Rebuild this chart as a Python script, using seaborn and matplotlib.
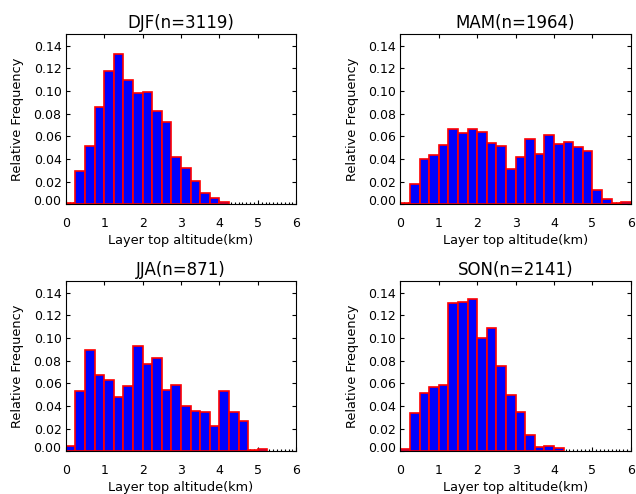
import numpy as np
import pandas as pd
import matplotlib
matplotlib.use("Agg")
import matplotlib.pyplot as plt
from matplotlib.transforms import ScaledTranslation
from matplotlib.ticker import MultipleLocator
import seaborn as sns

# Layer-top altitude bins (km), 0.25 km wide from 0 to 6 km
bin_width = 0.25
alt_range = (0.0, 6.0)
bin_centers = np.arange(alt_range[0] + bin_width / 2, alt_range[1], bin_width)

titles = ["DJF(n=3119)", "MAM(n=1964)", "JJA(n=871)", "SON(n=2141)"]

djf = [0.001, 0.029, 0.051, 0.086, 0.118, 0.133, 0.110, 0.0985, 0.099, 0.082,
       0.073, 0.042, 0.032, 0.0206, 0.010, 0.0053, 0.002, 0, 0, 0, 0, 0, 0, 0]
mam = [0.001, 0.0176, 0.040, 0.0432, 0.0526, 0.0668, 0.0626, 0.0662, 0.0641, 0.0538,
       0.0518, 0.0309, 0.0418, 0.058, 0.0447, 0.0615, 0.053, 0.0553, 0.0503, 0.0468,
       0.0124, 0.0044, 0.0015, 0.0024]
jja = [0.005, 0.053, 0.089, 0.0676, 0.063, 0.048, 0.0574, 0.093, 0.0768, 0.0826,
       0.0538, 0.0585, 0.040, 0.0353, 0.0344, 0.0226, 0.053, 0.0344, 0.0265, 0.001,
       0.002, 0, 0, 0]
son = [0.0018, 0.0338, 0.0512, 0.057, 0.0582, 0.1306, 0.1315, 0.134, 0.100, 0.109,
       0.0756, 0.0497, 0.035, 0.0147, 0.004, 0.005, 0.0032, 0, 0, 0, 0, 0, 0, 0]

season_freqs = [djf, mam, jja, son]

x_ticks = [0, 1, 2, 3, 4, 5, 6]
y_ticks = [0.00, 0.02, 0.04, 0.06, 0.08, 0.10, 0.12, 0.14]
y_tick_labels = ["0.00", "0.02", "0.04", "0.06", "0.08", "0.10", "0.12", "0.14"]

sns.set_style("ticks")
plt.rcParams["font.family"] = ["DejaVu Sans"]
plt.rcParams.update({
    "text.color": "black",
    "axes.labelcolor": "black",
    "xtick.color": "black",
    "ytick.color": "black",
    "axes.edgecolor": "black",
})

fig = plt.figure(figsize=(6.36, 4.94), dpi=100)
fig.patch.set_facecolor("white")

W, H = 636.0, 494.0
ax_w, ax_h = 230.6, 170.0
lefts = [65.7, 400.3]
tops = [34.3, 281.3]

for i, (title, freqs) in enumerate(zip(titles, season_freqs)):
    row, col = divmod(i, 2)
    rect = [lefts[col] / W, 1 - (tops[row] + ax_h) / H, ax_w / W, ax_h / H]
    ax = fig.add_axes(rect)
    df = pd.DataFrame({"alt": bin_centers, "freq": freqs})
    sns.histplot(data=df, x="alt", weights="freq", binwidth=bin_width, binrange=alt_range,
                 ax=ax, color="#0000ff", alpha=1.0)
    for p in list(ax.patches):
        if p.get_height() <= 0:
            p.remove()  # empty bins are not drawn
        else:
            p.set_facecolor("#0000ff")
            p.set_edgecolor("#ff0000")
            p.set_linewidth(1.2)

    ax.set_xlim(0, 6)
    ax.set_ylim(0, 0.15)
    ax.set_xticks(x_ticks)
    ax.set_xticklabels([str(v) for v in x_ticks])
    ax.xaxis.set_minor_locator(MultipleLocator(0.1))
    ax.set_yticks(y_ticks)
    ax.set_yticklabels(y_tick_labels)

    ax.tick_params(axis="both", which="major", direction="in", length=3, width=0.8,
                   color="black", labelcolor="black", labelsize=9, top=True, right=True)
    ax.tick_params(axis="x", which="major", pad=9.5)
    ax.tick_params(axis="y", which="major", pad=3)
    ax.tick_params(axis="x", which="minor", direction="in", length=1.5, width=0.8,
                   color="black", bottom=True, top=False)
    for s in ax.spines.values():
        s.set_visible(True)
        s.set_linewidth(0.8)
        s.set_color("black")
        s.set_zorder(3)

    ax.set_title(title, fontsize=12, pad=4.5, color="black")
    ax.set_xlabel("Layer top altitude(km)", fontsize=9.3, color="black")
    ax.set_ylabel("Relative Frequency", fontsize=9.3, color="black")
    ax.xaxis.set_label_coords(0.5, -0.175)
    ax.yaxis.set_label_coords(-0.18, 0.5)

    # lift the zero label slightly off the bottom edge
    lab0 = ax.yaxis.get_major_ticks()[0].label1
    lab0.set_transform(lab0.get_transform() + ScaledTranslation(0, 3 / 72, fig.dpi_scale_trans))

fig.savefig("out.png", dpi=100, facecolor="white")
